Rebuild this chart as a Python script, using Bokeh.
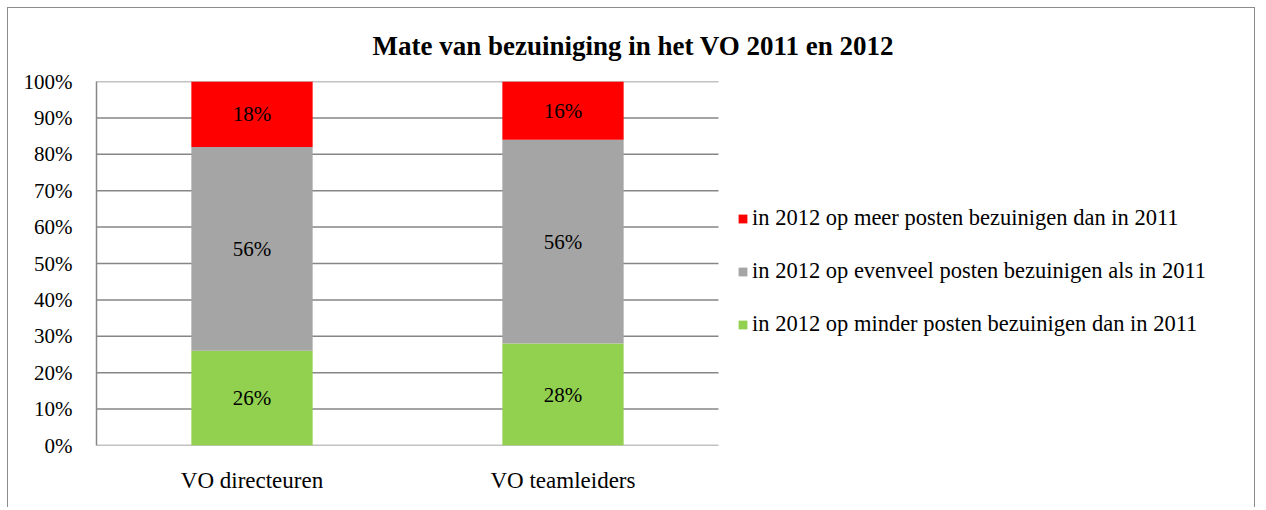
from bokeh.plotting import figure
from bokeh.models import (Range1d, NumeralTickFormatter, Legend, LegendItem,
                          FixedTicker, ColumnDataSource)
from bokeh.core.properties import value
from bokeh.embed import file_html
from bokeh.resources import INLINE

# ---- data ----
categories = ["VO directeuren", "VO teamleiders"]
minder = [0.26, 0.28]      # in 2012 op minder posten bezuinigen dan in 2011
evenveel = [0.56, 0.56]    # in 2012 op evenveel posten bezuinigen als in 2011
meer = [0.18, 0.16]        # in 2012 op meer posten bezuinigen dan in 2011
series_keys = ["minder", "evenveel", "meer"]
series_labels = ["in 2012 op minder posten bezuinigen dan in 2011",
                 "in 2012 op evenveel posten bezuinigen als in 2011",
                 "in 2012 op meer posten bezuinigen dan in 2011"]
colors = ["#92D050", "#A5A5A5", "#FF0000"]
y_ticks = [0.0, 0.1, 0.2, 0.3, 0.4, 0.5, 0.6, 0.7, 0.8, 0.9, 1.0]
title_text = "Mate van bezuiniging in het VO 2011 en 2012"

FONT = "Liberation Serif"
GRID = "#868686"

n = len(categories)
xpos = [i + 0.5 for i in range(n)]          # category slots on a numeric scale
source = ColumnDataSource(dict(x=xpos, minder=minder, evenveel=evenveel, meer=meer))

W, H = 1248, 500
LEFT, TOP, BOTTOM, RIGHT = 88, 73, 63, 8
PLOT_W = 622                                  # width of the bar area (both slots)
frame_w = W - LEFT - RIGHT
x_end = n * frame_w / PLOT_W                  # extra room on the right for the legend

p = figure(width=W, height=H, x_range=Range1d(0, x_end), y_range=Range1d(0, 1),
           output_backend="svg", toolbar_location=None,
           min_border_left=LEFT, min_border_right=RIGHT, min_border_top=TOP,
           min_border_bottom=BOTTOM)
p.styles = {"border-top": "1px solid #8c8c8c", "border-left": "1px solid #8c8c8c",
            "border-right": "1px solid #8c8c8c", "margin-left": "7px", "margin-top": "7px"}
p.outline_line_color = None
p.background_fill_color = "white"
p.border_fill_color = "white"
p.xgrid.grid_line_color = None
p.ygrid.grid_line_color = None

# horizontal gridlines over the bar area only
p.segment(x0=[0] * len(y_ticks), x1=[n] * len(y_ticks), y0=y_ticks, y1=y_ticks,
          line_color=GRID, line_width=1.5)

renderers = p.vbar_stack(series_keys, x="x", width=0.39, color=colors, source=source,
                         line_color=None)

# data labels centered in each segment
bottoms = [0.0] * n
for vals in (minder, evenveel, meer):
    mids = [b + v / 2 for b, v in zip(bottoms, vals)]
    labels = [f"{round(v * 100)}%" for v in vals]
    p.text(x=xpos, y=mids, text=labels, text_align="center", text_baseline="middle",
           text_font=value(FONT), text_font_size="21px", text_color="black")
    bottoms = [b + v for b, v in zip(bottoms, vals)]

# axes
p.yaxis.ticker = FixedTicker(ticks=y_ticks)
p.yaxis.formatter = NumeralTickFormatter(format="0%")
p.xaxis.ticker = FixedTicker(ticks=xpos)
p.xaxis.major_label_overrides = {x: c for x, c in zip(xpos, categories)}
for ax in (p.xaxis, p.yaxis):
    ax.major_tick_line_color = None
    ax.minor_tick_line_color = None
    ax.major_label_text_font = FONT
    ax.major_label_text_color = "black"
p.yaxis.axis_line_color = GRID
p.yaxis.axis_line_width = 1.5
p.xaxis.axis_line_color = None
p.yaxis.major_label_text_font_size = "21px"
p.xaxis.major_label_text_font_size = "23px"
p.yaxis.major_label_standoff = 18
p.xaxis.major_label_standoff = 16

# title
p.title.text = title_text
p.title.text_font = FONT
p.title.text_font_size = "27px"
p.title.text_font_style = "bold"
p.title.text_color = "black"
p.title.align = "left"
p.title.offset = 276
p.title.standoff = 41

# legend (red on top), right of the bar area
items = [LegendItem(label=series_labels[i], renderers=[renderers[i]]) for i in (2, 1, 0)]
legend = Legend(items=items, location=(PLOT_W + 19, 108), orientation="vertical",
                border_line_color=None, background_fill_alpha=0,
                padding=0, margin=0, spacing=27, label_height=25,
                glyph_width=11, glyph_height=11, label_standoff=4,
                label_text_font=FONT, label_text_font_size="22.5px", label_text_color="black")
p.add_layout(legend, "center")

open("out.html", "w").write(file_html(p, INLINE))
